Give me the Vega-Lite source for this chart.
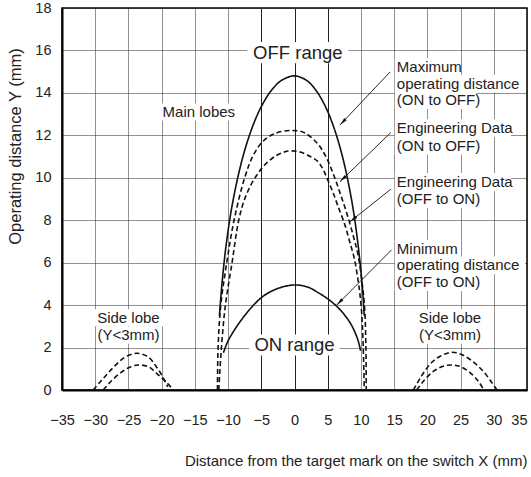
{
  "$schema": "https://vega.github.io/schema/vega-lite/v6.json",
  "width": 465,
  "height": 382,
  "autosize": {"type": "none"},
  "padding": {"left": 62, "top": 8, "right": 4, "bottom": 87},
  "background": "white",
  "config": {
    "font": "Liberation Sans",
    "view": {"stroke": "#000", "strokeWidth": 1.5},
    "axis": {"labelFont": "Liberation Sans", "titleFont": "Liberation Sans", "labelColor": "#222", "titleColor": "#222", "titleFontWeight": "normal"}
  },
  "datasets": {
    "curves": [
      {"series": "max", "style": "solid", "i": 1, "x": -11.3, "y": 3.5},
      {"series": "max", "style": "solid", "i": 2, "x": -10.92, "y": 5},
      {"series": "max", "style": "solid", "i": 3, "x": -10.22, "y": 7},
      {"series": "max", "style": "solid", "i": 4, "x": -9.21, "y": 9},
      {"series": "max", "style": "solid", "i": 5, "x": -7.76, "y": 11},
      {"series": "max", "style": "solid", "i": 6, "x": -6.21, "y": 12.5},
      {"series": "max", "style": "solid", "i": 7, "x": -4.75, "y": 13.5},
      {"series": "max", "style": "solid", "i": 8, "x": -3.27, "y": 14.2},
      {"series": "max", "style": "solid", "i": 9, "x": -1.9, "y": 14.6},
      {"series": "max", "style": "solid", "i": 10, "x": 0, "y": 14.8},
      {"series": "max", "style": "solid", "i": 11, "x": 1.77, "y": 14.6},
      {"series": "max", "style": "solid", "i": 12, "x": 3.04, "y": 14.2},
      {"series": "max", "style": "solid", "i": 13, "x": 4.43, "y": 13.5},
      {"series": "max", "style": "solid", "i": 14, "x": 5.78, "y": 12.5},
      {"series": "max", "style": "solid", "i": 15, "x": 7.22, "y": 11},
      {"series": "max", "style": "solid", "i": 16, "x": 8.57, "y": 9},
      {"series": "max", "style": "solid", "i": 17, "x": 9.51, "y": 7},
      {"series": "max", "style": "solid", "i": 18, "x": 10.17, "y": 5},
      {"series": "max", "style": "solid", "i": 19, "x": 10.5, "y": 3.5},

      {"series": "eng1", "style": "dashed", "i": 1, "x": -11.6, "y": 0},
      {"series": "eng1", "style": "dashed", "i": 2, "x": -11.5, "y": 2},
      {"series": "eng1", "style": "dashed", "i": 3, "x": -11.1, "y": 4},
      {"series": "eng1", "style": "dashed", "i": 4, "x": -10.2, "y": 6},
      {"series": "eng1", "style": "dashed", "i": 5, "x": -9.1, "y": 8},
      {"series": "eng1", "style": "dashed", "i": 6, "x": -7.5, "y": 10},
      {"series": "eng1", "style": "dashed", "i": 7, "x": -6.3, "y": 11},
      {"series": "eng1", "style": "dashed", "i": 8, "x": -4.8, "y": 11.7},
      {"series": "eng1", "style": "dashed", "i": 9, "x": -3.0, "y": 12.08},
      {"series": "eng1", "style": "dashed", "i": 10, "x": -0.5, "y": 12.23},
      {"series": "eng1", "style": "dashed", "i": 11, "x": 1.5, "y": 12.12},
      {"series": "eng1", "style": "dashed", "i": 12, "x": 3.5, "y": 11.6},
      {"series": "eng1", "style": "dashed", "i": 13, "x": 4.8, "y": 10.95},
      {"series": "eng1", "style": "dashed", "i": 14, "x": 6.0, "y": 10.05},
      {"series": "eng1", "style": "dashed", "i": 15, "x": 7.0, "y": 9.15},
      {"series": "eng1", "style": "dashed", "i": 16, "x": 8.0, "y": 8.2},
      {"series": "eng1", "style": "dashed", "i": 17, "x": 8.9, "y": 7.2},
      {"series": "eng1", "style": "dashed", "i": 18, "x": 9.55, "y": 6.4},
      {"series": "eng1", "style": "dashed", "i": 19, "x": 10.2, "y": 5},
      {"series": "eng1", "style": "dashed", "i": 20, "x": 10.55, "y": 3.9},
      {"series": "eng1", "style": "dashed", "i": 21, "x": 10.75, "y": 2},
      {"series": "eng1", "style": "dashed", "i": 22, "x": 10.8, "y": 0},

      {"series": "eng2", "style": "dashed", "i": 1, "x": -11.4, "y": 0},
      {"series": "eng2", "style": "dashed", "i": 2, "x": -11.0, "y": 2},
      {"series": "eng2", "style": "dashed", "i": 3, "x": -10.4, "y": 4},
      {"series": "eng2", "style": "dashed", "i": 4, "x": -9.4, "y": 6},
      {"series": "eng2", "style": "dashed", "i": 5, "x": -8.4, "y": 8},
      {"series": "eng2", "style": "dashed", "i": 6, "x": -7.5, "y": 9.0},
      {"series": "eng2", "style": "dashed", "i": 7, "x": -6.5, "y": 9.7},
      {"series": "eng2", "style": "dashed", "i": 8, "x": -5.5, "y": 10.2},
      {"series": "eng2", "style": "dashed", "i": 9, "x": -4.5, "y": 10.6},
      {"series": "eng2", "style": "dashed", "i": 10, "x": -3.0, "y": 11.0},
      {"series": "eng2", "style": "dashed", "i": 11, "x": -1.5, "y": 11.22},
      {"series": "eng2", "style": "dashed", "i": 12, "x": -0.5, "y": 11.27},
      {"series": "eng2", "style": "dashed", "i": 13, "x": 1.0, "y": 11.2},
      {"series": "eng2", "style": "dashed", "i": 14, "x": 2.5, "y": 10.98},
      {"series": "eng2", "style": "dashed", "i": 15, "x": 3.5, "y": 10.77},
      {"series": "eng2", "style": "dashed", "i": 16, "x": 4.3, "y": 10.4},
      {"series": "eng2", "style": "dashed", "i": 17, "x": 5.0, "y": 9.9},
      {"series": "eng2", "style": "dashed", "i": 18, "x": 5.8, "y": 9.3},
      {"series": "eng2", "style": "dashed", "i": 19, "x": 6.5, "y": 8.7},
      {"series": "eng2", "style": "dashed", "i": 20, "x": 7.5, "y": 7.86},
      {"series": "eng2", "style": "dashed", "i": 21, "x": 8.3, "y": 7.0},
      {"series": "eng2", "style": "dashed", "i": 22, "x": 9.0, "y": 6.2},
      {"series": "eng2", "style": "dashed", "i": 23, "x": 9.6, "y": 5.1},
      {"series": "eng2", "style": "dashed", "i": 24, "x": 10.05, "y": 3.9},
      {"series": "eng2", "style": "dashed", "i": 25, "x": 10.35, "y": 2},
      {"series": "eng2", "style": "dashed", "i": 26, "x": 10.5, "y": 0},

      {"series": "min", "style": "solid", "i": 1, "x": -10.7, "y": 1.75},
      {"series": "min", "style": "solid", "i": 2, "x": -10.1, "y": 2.25},
      {"series": "min", "style": "solid", "i": 3, "x": -9.1, "y": 2.8},
      {"series": "min", "style": "solid", "i": 4, "x": -8.0, "y": 3.3},
      {"series": "min", "style": "solid", "i": 5, "x": -6.6, "y": 3.85},
      {"series": "min", "style": "solid", "i": 6, "x": -5.0, "y": 4.35},
      {"series": "min", "style": "solid", "i": 7, "x": -3.5, "y": 4.65},
      {"series": "min", "style": "solid", "i": 8, "x": -1.5, "y": 4.88},
      {"series": "min", "style": "solid", "i": 9, "x": 0.2, "y": 4.95},
      {"series": "min", "style": "solid", "i": 10, "x": 2.0, "y": 4.85},
      {"series": "min", "style": "solid", "i": 11, "x": 3.5, "y": 4.6},
      {"series": "min", "style": "solid", "i": 12, "x": 5.2, "y": 4.25},
      {"series": "min", "style": "solid", "i": 13, "x": 6.5, "y": 3.9},
      {"series": "min", "style": "solid", "i": 14, "x": 7.5, "y": 3.55},
      {"series": "min", "style": "solid", "i": 15, "x": 8.5, "y": 3.1},
      {"series": "min", "style": "solid", "i": 16, "x": 9.2, "y": 2.65},
      {"series": "min", "style": "solid", "i": 17, "x": 9.6, "y": 2.3},
      {"series": "min", "style": "solid", "i": 18, "x": 9.95, "y": 1.85},

      {"series": "slu", "style": "dashed", "i": 1, "x": -30.3, "y": 0},
      {"series": "slu", "style": "dashed", "i": 2, "x": -29.2, "y": 0.4},
      {"series": "slu", "style": "dashed", "i": 3, "x": -28.2, "y": 0.75},
      {"series": "slu", "style": "dashed", "i": 4, "x": -27.0, "y": 1.15},
      {"series": "slu", "style": "dashed", "i": 5, "x": -25.5, "y": 1.55},
      {"series": "slu", "style": "dashed", "i": 6, "x": -23.7, "y": 1.73},
      {"series": "slu", "style": "dashed", "i": 7, "x": -22.0, "y": 1.55},
      {"series": "slu", "style": "dashed", "i": 8, "x": -20.8, "y": 1.1},
      {"series": "slu", "style": "dashed", "i": 9, "x": -19.8, "y": 0.6},
      {"series": "slu", "style": "dashed", "i": 10, "x": -19.1, "y": 0.15},

      {"series": "sll", "style": "dashed", "i": 1, "x": -28.8, "y": 0},
      {"series": "sll", "style": "dashed", "i": 2, "x": -27.5, "y": 0.45},
      {"series": "sll", "style": "dashed", "i": 3, "x": -26.0, "y": 0.85},
      {"series": "sll", "style": "dashed", "i": 4, "x": -24.5, "y": 1.12},
      {"series": "sll", "style": "dashed", "i": 5, "x": -23.5, "y": 1.18},
      {"series": "sll", "style": "dashed", "i": 6, "x": -22.0, "y": 1.1},
      {"series": "sll", "style": "dashed", "i": 7, "x": -20.8, "y": 0.8},
      {"series": "sll", "style": "dashed", "i": 8, "x": -19.4, "y": 0.4},
      {"series": "sll", "style": "dashed", "i": 9, "x": -18.2, "y": 0},

      {"series": "sru", "style": "dashed", "i": 1, "x": 17.9, "y": 0},
      {"series": "sru", "style": "dashed", "i": 2, "x": 19.0, "y": 0.6},
      {"series": "sru", "style": "dashed", "i": 3, "x": 20.5, "y": 1.25},
      {"series": "sru", "style": "dashed", "i": 4, "x": 22.0, "y": 1.6},
      {"series": "sru", "style": "dashed", "i": 5, "x": 23.7, "y": 1.78},
      {"series": "sru", "style": "dashed", "i": 6, "x": 25.3, "y": 1.65},
      {"series": "sru", "style": "dashed", "i": 7, "x": 27.0, "y": 1.3},
      {"series": "sru", "style": "dashed", "i": 8, "x": 28.5, "y": 0.85},
      {"series": "sru", "style": "dashed", "i": 9, "x": 29.7, "y": 0.35},
      {"series": "sru", "style": "dashed", "i": 10, "x": 30.5, "y": 0},

      {"series": "srl", "style": "dashed", "i": 1, "x": 18.4, "y": 0},
      {"series": "srl", "style": "dashed", "i": 2, "x": 19.5, "y": 0.45},
      {"series": "srl", "style": "dashed", "i": 3, "x": 21.0, "y": 0.9},
      {"series": "srl", "style": "dashed", "i": 4, "x": 22.5, "y": 1.13},
      {"series": "srl", "style": "dashed", "i": 5, "x": 23.7, "y": 1.18},
      {"series": "srl", "style": "dashed", "i": 6, "x": 25.0, "y": 1.1},
      {"series": "srl", "style": "dashed", "i": 7, "x": 26.5, "y": 0.8},
      {"series": "srl", "style": "dashed", "i": 8, "x": 27.7, "y": 0.4},
      {"series": "srl", "style": "dashed", "i": 9, "x": 28.5, "y": 0}
    ],
    "labels": [
      {"text": "OFF range", "kind": "big", "x": 0.5, "y": 15.9},
      {"text": "ON range", "kind": "big", "x": 0, "y": 2.12},
      {"text": "Main lobes", "kind": "small", "x": -14.4, "y": 13.1},
      {"text": "Side lobe", "kind": "small", "x": -25.0, "y": 3.4},
      {"text": "(Y<3mm)", "kind": "small", "x": -25.0, "y": 2.58},
      {"text": "Side lobe", "kind": "small", "x": 23.4, "y": 3.4},
      {"text": "(Y<3mm)", "kind": "small", "x": 23.4, "y": 2.58}
    ],
    "notes": [
      {"text": "Maximum", "x": 15.4, "y": 15.22},
      {"text": "operating distance", "x": 15.4, "y": 14.44},
      {"text": "(ON to OFF)", "x": 15.4, "y": 13.66},
      {"text": "Engineering Data", "x": 15.4, "y": 12.34},
      {"text": "(ON to OFF)", "x": 15.4, "y": 11.52},
      {"text": "Engineering Data", "x": 15.4, "y": 9.8},
      {"text": "(OFF to ON)", "x": 15.4, "y": 8.98},
      {"text": "Minimum", "x": 15.4, "y": 6.66},
      {"text": "operating distance", "x": 15.4, "y": 5.87},
      {"text": "(OFF to ON)", "x": 15.4, "y": 5.08}
    ],
    "arrows": [
      {"x": 14.4, "y": 14.99, "x2": 6.85, "y2": 12.49},
      {"x": 14.5, "y": 12.13, "x2": 6.85, "y2": 9.82},
      {"x": 14.5, "y": 9.46, "x2": 8.35, "y2": 7.93},
      {"x": 14.6, "y": 6.6, "x2": 6.35, "y2": 4.0}
    ]
  },
  "encoding": {
    "x": {
      "field": "x", "type": "quantitative",
      "scale": {"domain": [-35, 35], "nice": false, "zero": false},
      "axis": {
        "title": "Distance from the target mark on the switch X (mm)",
        "values": [-35, -30, -25, -20, -15, -10, -5, 0, 5, 10, 15, 20, 25, 30, 35],
        "ticks": false, "tickSize": 0, "labelPadding": 23, "labelFontSize": 14.5, "labelBaseline": "top",
        "labelAlign": {"condition": {"test": "datum.value == 35", "value": "right"}, "value": "center"},
        "labelFlush": false, "labelOverlap": false,
        "grid": true, "gridColor": "#222", "gridWidth": 1,
        "gridDash": {"condition": {"test": "abs(datum.value) <= 5", "value": []}, "value": [1, 1]},
        "domainColor": "#000", "domainWidth": 2,
        "titleFontSize": 15, "titleAnchor": "end", "titleAlign": "right", "titleX": 465, "titleY": 75, "titleBaseline": "alphabetic"
      }
    },
    "y": {
      "field": "y", "type": "quantitative",
      "scale": {"domain": [0, 18], "nice": false},
      "axis": {
        "title": "Operating distance Y (mm)",
        "values": [0, 2, 4, 6, 8, 10, 12, 14, 16, 18],
        "ticks": false, "tickSize": 0, "labelPadding": 11, "labelFontSize": 14.5,
        "labelFlush": false, "labelOverlap": false,
        "grid": true, "gridColor": "#222", "gridWidth": 1, "gridDash": [1, 1],
        "domainColor": "#000", "domainWidth": 2,
        "titleFontSize": 16.5, "titleAngle": -90, "titleX": -47, "titleY": 138, "titleAlign": "center", "titleBaseline": "middle"
      }
    }
  },
  "layer": [
    {
      "data": {"name": "labels"},
      "transform": [
        {"calculate": "length(datum.text) * (datum.kind == 'big' ? 0.8 : 0.55) + 0.4", "as": "hw"},
        {"calculate": "datum.kind == 'big' ? 0.5 : 0.4", "as": "hh"},
        {"calculate": "datum.x - datum.hw", "as": "xa"},
        {"calculate": "datum.x + datum.hw", "as": "xb"},
        {"calculate": "datum.y - datum.hh", "as": "ya"},
        {"calculate": "datum.y + datum.hh", "as": "yb"}
      ],
      "mark": {"type": "rect", "color": "white", "opacity": 1},
      "encoding": {
        "x": {"field": "xa", "type": "quantitative"},
        "x2": {"field": "xb"},
        "y": {"field": "ya", "type": "quantitative"},
        "y2": {"field": "yb"}
      }
    },
    {
      "data": {"name": "notes"},
      "transform": [
        {"calculate": "datum.x - 0.3", "as": "xa"},
        {"calculate": "datum.x + length(datum.text) * 1.05 + 0.4", "as": "xb"},
        {"calculate": "datum.y - 0.42", "as": "ya"},
        {"calculate": "datum.y + 0.42", "as": "yb"}
      ],
      "mark": {"type": "rect", "color": "white", "opacity": 1},
      "encoding": {
        "x": {"field": "xa", "type": "quantitative"},
        "x2": {"field": "xb"},
        "y": {"field": "ya", "type": "quantitative"},
        "y2": {"field": "yb"}
      }
    },
    {
      "data": {"name": "curves"},
      "mark": {"type": "line", "color": "#111", "strokeWidth": 1.6, "interpolate": "catmull-rom", "clip": true},
      "encoding": {
        "detail": {"field": "series"},
        "order": {"field": "i", "type": "quantitative"},
        "strokeDash": {"field": "style", "type": "nominal", "scale": {"domain": ["solid", "dashed"], "range": [[1, 0], [5, 3]]}, "legend": null}
      }
    },
    {
      "data": {"name": "arrows"},
      "mark": {"type": "rule", "color": "#111", "strokeWidth": 0.9},
      "encoding": {
        "x2": {"field": "x2"},
        "y2": {"field": "y2"}
      }
    },
    {
      "data": {"name": "arrows"},
      "transform": [
        {"calculate": "atan2((datum.x2 - datum.x) * 6.643, (datum.y2 - datum.y) * 21.22) * 180 / PI", "as": "ang"}
      ],
      "mark": {"type": "point", "shape": "M0,0L0.4,2L-0.4,2Z", "filled": true, "color": "#111", "size": 64, "opacity": 1},
      "encoding": {
        "x": {"field": "x2", "type": "quantitative"},
        "y": {"field": "y2", "type": "quantitative"},
        "angle": {"field": "ang", "type": "quantitative", "scale": null}
      }
    },
    {
      "data": {"name": "labels"},
      "mark": {"type": "text", "align": "center", "baseline": "middle", "color": "#222"},
      "encoding": {
        "text": {"field": "text"},
        "size": {"field": "kind", "type": "nominal", "scale": {"domain": ["big", "small"], "range": [18.5, 15]}, "legend": null}
      }
    },
    {
      "data": {"name": "notes"},
      "mark": {"type": "text", "align": "left", "baseline": "middle", "fontSize": 15, "color": "#222"},
      "encoding": {"text": {"field": "text"}}
    }
  ]
}
